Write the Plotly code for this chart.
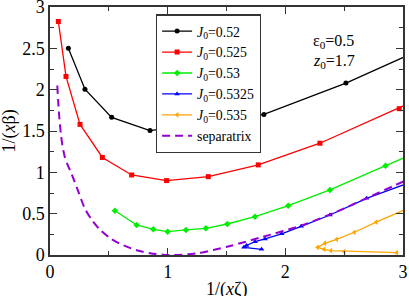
import plotly.graph_objects as go

# ---- data ----
x_052 = [0.156, 0.297, 0.524, 0.85, 1.818, 2.515, 3.3]
y_052 = [2.50, 2.006, 1.665, 1.505, 1.70, 2.08, 2.58]

x_0525 = [0.071, 0.136, 0.255, 0.445, 0.694, 0.991, 1.345, 1.77, 2.294, 2.968, 3.2]
y_0525 = [2.825, 2.16, 1.58, 1.18, 0.968, 0.90, 0.948, 1.09, 1.352, 1.77, 1.93]

x_053 = [0.552, 0.736, 0.878, 1.0, 1.156, 1.325, 1.507, 1.742, 2.025, 2.379, 2.852, 3.2]
y_053 = [0.536, 0.363, 0.311, 0.282, 0.303, 0.323, 0.375, 0.464, 0.597, 0.787, 1.081, 1.29]

x_05325 = [1.798, 1.648, 1.67, 1.742, 1.827, 1.968, 2.135, 2.379, 2.69, 3.2]
y_05325 = [0.069, 0.093, 0.115, 0.161, 0.194, 0.256, 0.347, 0.484, 0.686, 0.95]

x_0535 = [2.946, 2.50, 2.387, 2.33, 2.274, 2.336, 2.436, 2.586, 2.772, 3.2]
y_0535 = [0.028, 0.04, 0.052, 0.069, 0.093, 0.142, 0.19, 0.275, 0.398, 0.66]

x_sep = [0.062, 0.07, 0.08, 0.092, 0.105, 0.125, 0.15, 0.184, 0.24, 0.297, 0.36, 0.425,
         0.51, 0.595, 0.736, 0.85, 0.96, 1.05, 1.25, 1.53, 1.81, 2.15, 2.436, 2.72, 3.0, 3.1]
y_sep = [2.05, 1.85, 1.65, 1.47, 1.33, 1.19, 1.09, 0.98, 0.77, 0.56, 0.415, 0.305,
         0.205, 0.135, 0.058, 0.022, 0.004, 0.0, 0.02, 0.109, 0.22, 0.363, 0.524, 0.706, 0.887, 0.95]

names = ["<i>J</i><sub>0</sub>=0.52", "<i>J</i><sub>0</sub>=0.525", "<i>J</i><sub>0</sub>=0.53",
         "<i>J</i><sub>0</sub>=0.5325", "<i>J</i><sub>0</sub>=0.535", "separatrix"]

FONT = "Liberation Serif, Times New Roman, Times, serif"

fig = go.Figure()
series = [
    (x_052, y_052, "#000000", "circle"),
    (x_0525, y_0525, "#ff0000", "square"),
    (x_053, y_053, "#00ee00", "diamond"),
    (x_05325, y_05325, "#0000ff", "triangle-up"),
    (x_0535, y_0535, "#ffa500", "triangle-left"),
]
for (xs, ys, col, sym), nm in zip(series, names[:5]):
    fig.add_trace(go.Scatter(x=xs, y=ys, mode="lines+markers", name=nm,
                             line=dict(color=col, width=1.3),
                             marker=dict(color=col, symbol=sym, size=5)))
fig.add_trace(go.Scatter(x=x_sep, y=y_sep, mode="lines", name=names[5],
                         line=dict(color="#9400d3", width=2, dash="8px,5px",
                                   shape="spline", smoothing=0.8)))

axis_common = dict(
    showline=True, linecolor="#333333", linewidth=1.5, mirror="allticks",
    ticks="inside", ticklen=7, tickwidth=1.2, tickcolor="#333333",
    showgrid=False, zeroline=False, ticklabeloverflow="allow", automargin=False,
    tickfont=dict(family=FONT, size=18, color="black"),
    minor=dict(ticks="inside", ticklen=4, tickcolor="#333333", tickwidth=1.2, showgrid=False),
)
fig.update_xaxes(range=[0, 3], dtick=1, minor_dtick=0.5, **axis_common)
fig.update_yaxes(range=[0, 3], dtick=0.5, minor_dtick=0.25, **axis_common)

fig.add_annotation(xref="paper", yref="paper", x=0.5, y=-0.09, yanchor="top",
                   text="1/(<i>x</i>ζ)", showarrow=False,
                   font=dict(family=FONT, size=18, color="black"))
fig.add_annotation(xref="paper", yref="paper", x=-0.115, y=0.5, xanchor="center",
                   text="1/(<i>x</i>β)", showarrow=False, textangle=-90,
                   font=dict(family=FONT, size=18, color="black"))

fig.add_annotation(x=2.41, y=2.58, text="ε<sub>0</sub>=0.5", showarrow=False,
                   font=dict(family=FONT, size=16, color="black"))
fig.add_annotation(x=2.41, y=2.34, text="<i>z</i><sub>0</sub>=1.7", showarrow=False,
                   font=dict(family=FONT, size=16, color="black"))

fig.update_layout(
    width=409, height=296,
    margin=dict(l=50, r=6, t=7, b=41),
    plot_bgcolor="white", paper_bgcolor="white",
    showlegend=True,
    legend=dict(x=0.30, y=0.97, xanchor="left", yanchor="top",
                bgcolor="white", bordercolor="#333333", borderwidth=1.2,
                font=dict(family=FONT, size=13.8, color="black"),
                tracegroupgap=0, itemwidth=30),
)

fig.write_html("out.html", config={"displayModeBar": False},
               post_script="document.body.style.margin='0';document.body.style.padding='0';")
